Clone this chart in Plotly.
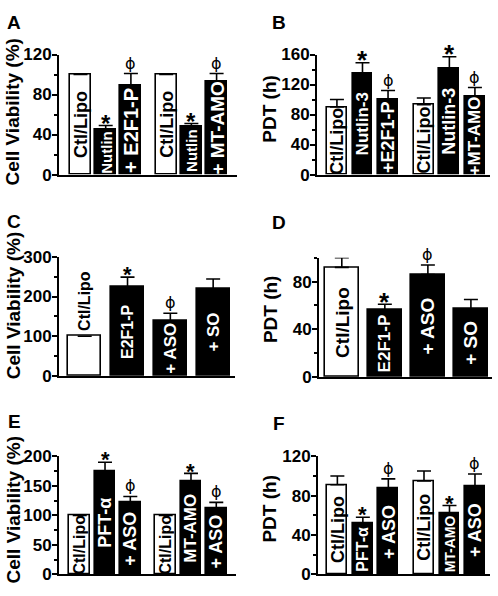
import plotly.graph_objects as go

W, H = 498, 596

# ---------------- data ----------------
A_labels = ["Ctl/Lipo", "Nutlin", "+ E2F1-P", "Ctl/Lipo", "Nutlin", "+ MT-AMO"]
A_values = [100, 45, 89, 100, 48, 93]
A_errors = [0, 4, 12, 0, 3, 8]
A_marks = ["", "*", "ϕ", "", "*", "ϕ"]

B_labels = ["Ctl/Lipo", "Nutlin-3", "+E2F1-P", "Ctl/Lipo", "Nutlin-3", "+MT-AMO"]
B_values = [90, 135, 100, 93, 142, 104]
B_errors = [10, 14, 12, 9, 15, 12]
B_marks = ["", "*", "ϕ", "", "*", "ϕ"]

C_labels = ["Ctl/Lipo", "E2F1-P", "+ ASO", "+ SO"]
C_values = [100, 224, 139, 219]
C_errors = [0, 25, 19, 25]
C_marks = ["", "*", "ϕ", ""]

D_labels = ["Ctl/Lipo", "E2F1-P", "+ ASO", "+ SO"]
D_values = [92, 56, 86, 57]
D_errors = [8, 5, 8, 8]
D_marks = ["", "*", "ϕ", ""]

E_labels = ["Ctl/Lipo", "PFT-α", "+ ASO", "Ctl/Lipo", "MT-AMO", "+ ASO"]
E_values = [100, 175, 122, 100, 158, 112]
E_errors = [0, 15, 10, 0, 13, 10]
E_marks = ["", "*", "ϕ", "", "*", "ϕ"]

F_labels = ["Ctl/Lipo", "PFT-α", "+ ASO", "Ctl/Lipo", "MT-AMO", "+ ASO"]
F_values = [91, 52, 87, 95, 62, 90]
F_errors = [9, 6, 10, 10, 8, 12]
F_marks = ["", "*", "ϕ", "", "*", "ϕ"]

# ---------------- styles / layout ----------------
FONT = "Arial, 'Liberation Sans', Helvetica, sans-serif"


def px(x):
    return x / W


def py(y):
    return 1 - y / H


panels = [
    dict(letter="A", labels=A_labels, values=A_values, errors=A_errors, marks=A_marks,
         ytitle="Cell Viability (%)", xpx=(59, 237), ypx=(47, 171), yrange=(0, 120), dtick=40,
         xpad=(0.853, 0.81), bw=0.83, lsize=[18, 15, 20, 18, 15, 19], star=24,
         letter_pos=(14, 14), title_pos=(13, 107), outside=[]),
    dict(letter="B", labels=B_labels, values=B_values, errors=B_errors, marks=B_marks,
         ytitle="PDT (h)", xpx=(317, 490), ypx=(47, 171), yrange=(0, 160), dtick=40,
         xpad=(0.78, 0.59), bw=0.78, lsize=[18, 17, 18, 18, 18, 17], star=26,
         letter_pos=(279, 14), title_pos=(270, 103), outside=[]),
    dict(letter="C", labels=C_labels, values=C_values, errors=C_errors, marks=C_marks,
         ytitle="Cell Viability (%)", xpx=(59, 235), ypx=(256, 379), yrange=(0, 300), dtick=100,
         xpad=(0.6, 0.51), bw=0.77, lsize=[16, 16, 17, 17], star=22,
         letter_pos=(14, 219), title_pos=(13, 307), outside=[0]),
    dict(letter="D", labels=D_labels, values=D_values, errors=D_errors, marks=D_marks,
         ytitle="PDT (h)", xpx=(319, 492), ypx=(257, 380), yrange=(0, 100), dtick=40,
         xpad=(0.53, 0.49), bw=0.78, lsize=[19, 17, 19, 19], star=26,
         letter_pos=(279, 221), title_pos=(270, 310), outside=[]),
    dict(letter="E", labels=E_labels, values=E_values, errors=E_errors, marks=E_marks,
         ytitle="Cell Viability (%)", xpx=(59, 236), ypx=(462, 584), yrange=(0, 200), dtick=50,
         xpad=(0.82, 0.78), bw=0.81, lsize=[16, 18, 18, 16, 17, 18], star=22,
         letter_pos=(14, 426), title_pos=(13, 518), outside=[]),
    dict(letter="F", labels=F_labels, values=F_values, errors=F_errors, marks=F_marks,
         ytitle="PDT (h)", xpx=(318, 490), ypx=(462, 584), yrange=(0, 120), dtick=40,
         xpad=(0.76, 0.59), bw=0.78, lsize=[18, 16, 18, 18, 14, 18], star=22,
         letter_pos=(279, 428), title_pos=(270, 516), outside=[]),
]


def positions(n):
    # groups of three with an extra gap between groups
    if n == 6:
        return [i + 0.4 * (i >= 3) for i in range(n)]
    return list(range(n))


fig = go.Figure()
annotations = []
layout = {}

for k, p in enumerate(panels, start=1):
    sx = "" if k == 1 else str(k)
    xref, yref = "x" + sx, "y" + sx
    xs = positions(len(p["values"]))
    fills = ["white" if lab.startswith("Ctl") else "black" for lab in p["labels"]]

    fig.add_trace(go.Bar(
        x=xs, y=p["values"], width=p["bw"],
        marker=dict(color=fills, line=dict(color="black", width=1.6)),
        error_y=dict(type="data", symmetric=False, array=p["errors"],
                     arrayminus=[0] * len(p["errors"]), color="black",
                     thickness=1.6, width=7),
        xaxis=xref, yaxis=yref, showlegend=False, hoverinfo="skip",
    ))

    layout["xaxis" + sx] = dict(
        domain=[px(p["xpx"][0]), px(p["xpx"][1])],
        range=[xs[0] - p["xpad"][0], xs[-1] + p["xpad"][1]],
        showline=True, linecolor="black", linewidth=2, showticklabels=False,
        ticks="", showgrid=False, zeroline=False, anchor=yref, fixedrange=True,
    )
    layout["yaxis" + sx] = dict(
        domain=[py(p["ypx"][1]), py(p["ypx"][0])],
        range=list(p["yrange"]), dtick=p["dtick"], tick0=0,
        showline=True, linecolor="black", linewidth=2,
        ticks="outside", ticklen=5, tickwidth=2, tickcolor="black",
        minor=dict(ticks="outside", ticklen=3, tickwidth=1.5, dtick=p["dtick"] / 2,
                   tickcolor="black", showgrid=False),
        tickfont=dict(family=FONT, size=17, color="black", weight="bold"),
        ticklabelstandoff=-3,
        showgrid=False, zeroline=False, anchor=xref, fixedrange=True,
    )

    # labels inside (or above) bars
    for i, (x, v, lab) in enumerate(zip(xs, p["values"], p["labels"])):
        out = i in p["outside"]
        annotations.append(dict(
            x=x, y=v if out else v / 2, xref=xref, yref=yref,
            text=lab, textangle=-90, showarrow=False,
            xanchor="center", yanchor="bottom" if out else "middle",
            yshift=3 if out else 0,
            font=dict(family=FONT, size=p["lsize"][i], weight="bold",
                      color="black" if (out or fills[i] == "white") else "white"),
        ))

    # significance marks
    for x, v, e, m in zip(xs, p["values"], p["errors"], p["marks"]):
        if not m:
            continue
        if m == "*":
            annotations.append(dict(
                x=x, y=v + e, xref=xref, yref=yref, text=m, showarrow=False,
                xanchor="center", yanchor="bottom", yshift=-0.55 * p["star"],
                font=dict(family=FONT, size=p["star"], weight="bold", color="black"),
            ))
        else:
            annotations.append(dict(
                x=x, y=v + e, xref=xref, yref=yref, text=m, showarrow=False,
                xanchor="center", yanchor="bottom", yshift=-1,
                font=dict(family="'DejaVu Sans', " + FONT, size=16, color="black"),
            ))

    # panel letter
    annotations.append(dict(
        x=px(p["letter_pos"][0]), y=py(p["letter_pos"][1]), xref="paper", yref="paper",
        text=p["letter"], showarrow=False, xanchor="center", yanchor="middle",
        font=dict(family=FONT, size=19, weight="bold", color="black"),
    ))
    # y-axis title
    annotations.append(dict(
        x=px(p["title_pos"][0]), y=py(p["title_pos"][1]), xref="paper", yref="paper",
        text=p["ytitle"], textangle=-90, showarrow=False,
        xanchor="center", yanchor="middle",
        font=dict(family=FONT, size=19, weight="bold", color="black"),
    ))

fig.update_layout(
    width=W, height=H, margin=dict(l=0, r=0, t=0, b=0),
    paper_bgcolor="white", plot_bgcolor="white",
    annotations=annotations, bargap=0, **layout,
)

fig.write_html(
    "out.html",
    config={"displayModeBar": False},
    post_script="document.body.style.margin='0';document.body.style.overflow='hidden';",
)
